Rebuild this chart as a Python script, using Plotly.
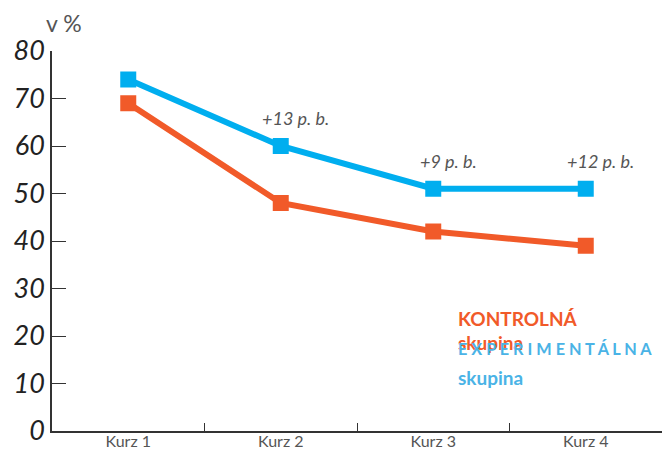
import plotly.graph_objects as go

categories = ["Kurz 1", "Kurz 2", "Kurz 3", "Kurz 4"]
experimental = [74, 60, 51, 51]
control = [69, 48, 42, 39]
diff_labels = ["", "+13 p. b.", "+9 p. b.", "+12 p. b."]
y_ticks = [0, 10, 20, 30, 40, 50, 60, 70, 80]

BLUE = "#00AEEF"
ORANGE = "#F15A29"
FONT = "Lato"

fig = go.Figure()
fig.add_trace(go.Scatter(
    x=categories, y=control, mode="lines+markers", name="KONTROLNÁ skupina",
    line=dict(color=ORANGE, width=6),
    marker=dict(symbol="square", size=16, color=ORANGE),
))
fig.add_trace(go.Scatter(
    x=categories, y=experimental, mode="lines+markers", name="EXPERIMENTÁLNA skupina",
    line=dict(color=BLUE, width=6),
    marker=dict(symbol="square", size=16, color=BLUE),
))

for cat, val, lab in zip(categories, experimental, diff_labels):
    if lab:
        fig.add_annotation(x=cat, y=val, text=lab, showarrow=False, yshift=28, xshift=15,
                           font=dict(family=FONT, size=18, color="#555555", style="italic"))

fig.add_annotation(xref="paper", yref="paper", x=-0.013, y=1.0, yshift=12,
                   text="v %", showarrow=False, xanchor="left", yanchor="bottom",
                   font=dict(family=FONT, size=23, color="#555555"))

legend_lines = [
    ("<b>KONTROLNÁ</b>", 0.297, ORANGE, 19),
    ("<b>skupina</b>", 0.234, ORANGE, 19),
    ("<b>E X P E R I M E N T Á L N A</b>", 0.218, "#4AB3E6", 16.3),
    ("<b>skupina</b>", 0.142, "#4AB3E6", 19),
]
for txt, yy, col, sz in legend_lines:
    fig.add_annotation(xref="paper", yref="paper", x=0.662, y=yy, text=txt,
                       showarrow=False, xanchor="left", yanchor="middle", align="left",
                       font=dict(family=FONT, size=sz, color=col))

fig.update_layout(
    width=664, height=450,
    margin=dict(l=52, r=2, t=51, b=19, autoexpand=False),
    plot_bgcolor="white", paper_bgcolor="white",
    showlegend=False,
    font=dict(family=FONT),
)
fig.update_xaxes(
    type="category", range=[-0.5, 3.5], tickson="boundaries",
    showline=True, linecolor="#333333", linewidth=1.5,
    ticks="inside", ticklen=8, tickcolor="#333333",
    showgrid=False, zeroline=False, automargin=False,
    ticklabelstandoff=-5,
    tickfont=dict(family=FONT, size=16, color="#555555"),
)
fig.update_yaxes(
    range=[0, 80], tickvals=y_ticks, showline=True, linecolor="#333333", linewidth=1.5,
    ticks="inside", ticklen=14, tickcolor="#333333",
    showgrid=False, zeroline=False, automargin=False,
    tickfont=dict(family=FONT, size=27, color="#222222", style="italic"),
)

fig.write_html("out.html", config={"displayModeBar": False},
               post_script="document.body.style.margin='0px';")
